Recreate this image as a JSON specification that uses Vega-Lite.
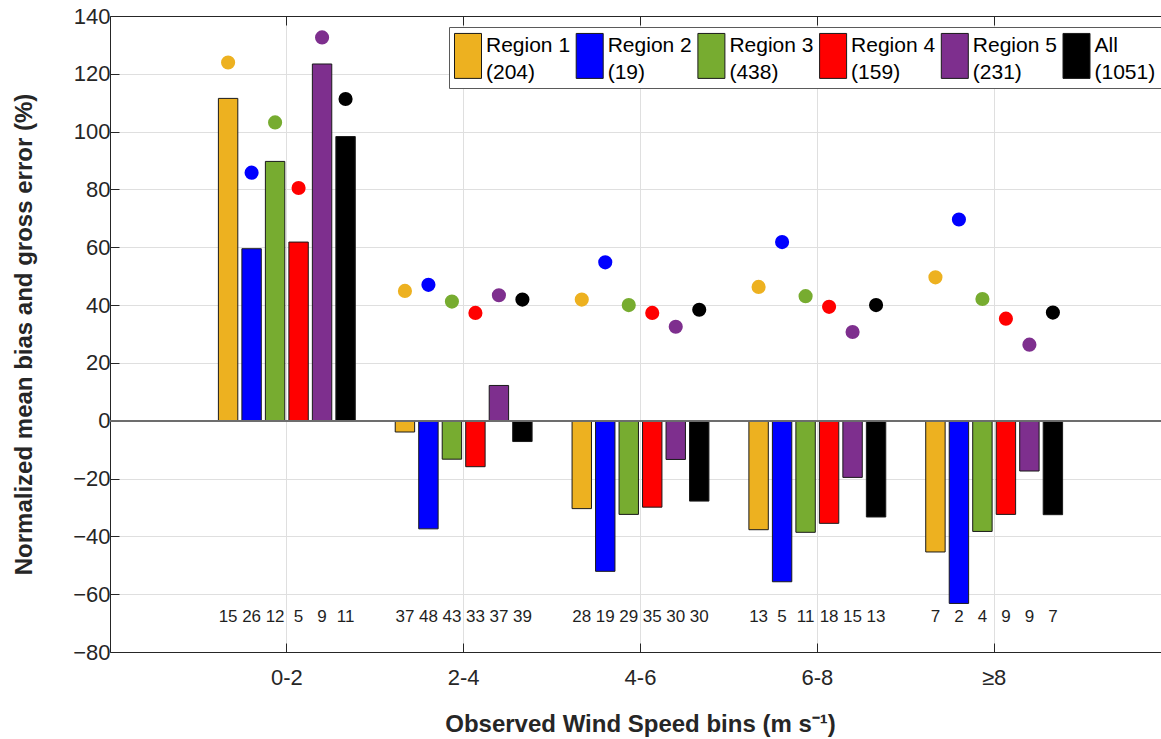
{
  "$schema": "https://vega.github.io/schema/vega-lite/v6.json",
  "width": 1051,
  "height": 636,
  "autosize": {"type": "none"},
  "padding": {"left": 110, "top": 16, "right": 0, "bottom": 87},
  "background": "white",
  "config": {
    "view": {"stroke": null},
    "font": "Liberation Sans",
    "axis": {
      "labelFont": "Liberation Sans",
      "titleFont": "Liberation Sans",
      "labelColor": "#262626",
      "titleColor": "#262626",
      "domainColor": "#262626",
      "tickColor": "#262626",
      "gridColor": "#dfdfdf",
      "gridWidth": 1
    }
  },
  "data": {
    "values": [
      {"bin": "0-2", "region": "Region 1 (204)", "bias": 111.5, "error": 123.9, "n": 15},
      {"bin": "0-2", "region": "Region 2 (19)", "bias": 59.5, "error": 85.8, "n": 26},
      {"bin": "0-2", "region": "Region 3 (438)", "bias": 89.7, "error": 103.2, "n": 12},
      {"bin": "0-2", "region": "Region 4 (159)", "bias": 61.8, "error": 80.5, "n": 5},
      {"bin": "0-2", "region": "Region 5 (231)", "bias": 123.4, "error": 132.6, "n": 9},
      {"bin": "0-2", "region": "All (1051)", "bias": 98.3, "error": 111.3, "n": 11},
      {"bin": "2-4", "region": "Region 1 (204)", "bias": -3.9, "error": 44.9, "n": 37},
      {"bin": "2-4", "region": "Region 2 (19)", "bias": -37.4, "error": 47.0, "n": 48},
      {"bin": "2-4", "region": "Region 3 (438)", "bias": -13.3, "error": 41.2, "n": 43},
      {"bin": "2-4", "region": "Region 4 (159)", "bias": -15.9, "error": 37.3, "n": 33},
      {"bin": "2-4", "region": "Region 5 (231)", "bias": 12.2, "error": 43.4, "n": 37},
      {"bin": "2-4", "region": "All (1051)", "bias": -7.2, "error": 41.9, "n": 39},
      {"bin": "4-6", "region": "Region 1 (204)", "bias": -30.4, "error": 41.9, "n": 28},
      {"bin": "4-6", "region": "Region 2 (19)", "bias": -52.1, "error": 54.8, "n": 19},
      {"bin": "4-6", "region": "Region 3 (438)", "bias": -32.4, "error": 40.0, "n": 29},
      {"bin": "4-6", "region": "Region 4 (159)", "bias": -29.9, "error": 37.3, "n": 35},
      {"bin": "4-6", "region": "Region 5 (231)", "bias": -13.4, "error": 32.5, "n": 30},
      {"bin": "4-6", "region": "All (1051)", "bias": -27.8, "error": 38.4, "n": 30},
      {"bin": "6-8", "region": "Region 1 (204)", "bias": -37.7, "error": 46.3, "n": 13},
      {"bin": "6-8", "region": "Region 2 (19)", "bias": -55.7, "error": 61.8, "n": 5},
      {"bin": "6-8", "region": "Region 3 (438)", "bias": -38.6, "error": 43.1, "n": 11},
      {"bin": "6-8", "region": "Region 4 (159)", "bias": -35.5, "error": 39.4, "n": 18},
      {"bin": "6-8", "region": "Region 5 (231)", "bias": -19.6, "error": 30.7, "n": 15},
      {"bin": "6-8", "region": "All (1051)", "bias": -33.3, "error": 40.0, "n": 13},
      {"bin": "≥8", "region": "Region 1 (204)", "bias": -45.4, "error": 49.6, "n": 7},
      {"bin": "≥8", "region": "Region 2 (19)", "bias": -63.2, "error": 69.6, "n": 2},
      {"bin": "≥8", "region": "Region 3 (438)", "bias": -38.3, "error": 42.1, "n": 4},
      {"bin": "≥8", "region": "Region 4 (159)", "bias": -32.4, "error": 35.3, "n": 9},
      {"bin": "≥8", "region": "Region 5 (231)", "bias": -17.4, "error": 26.3, "n": 9},
      {"bin": "≥8", "region": "All (1051)", "bias": -32.5, "error": 37.4, "n": 7}
    ]
  },
  "encoding": {
    "x": {
      "field": "bin",
      "type": "nominal",
      "sort": ["0-2", "2-4", "4-6", "6-8", "≥8"],
      "scale": {"type": "band", "range": [0, 1061], "paddingInner": 0.226, "paddingOuter": 0.613}
    },
    "xOffset": {
      "field": "region",
      "type": "nominal",
      "sort": ["Region 1 (204)", "Region 2 (19)", "Region 3 (438)", "Region 4 (159)", "Region 5 (231)", "All (1051)"],
      "scale": {"paddingInner": 0.174, "paddingOuter": 0}
    },
    "color": {
      "field": "region",
      "type": "nominal",
      "sort": ["Region 1 (204)", "Region 2 (19)", "Region 3 (438)", "Region 4 (159)", "Region 5 (231)", "All (1051)"],
      "scale": {
        "domain": ["Region 1 (204)", "Region 2 (19)", "Region 3 (438)", "Region 4 (159)", "Region 5 (231)", "All (1051)"],
        "range": ["#EDB120", "#0000FF", "#77AC30", "#FF0000", "#7E2F8E", "#000000"]
      }
    }
  },
  "layer": [
    {
      "mark": {"type": "bar", "stroke": "#1a1a1a", "strokeWidth": 1, "opacity": 1},
      "encoding": {
        "y": {
          "field": "bias",
          "type": "quantitative",
          "scale": {"domain": [-80, 140], "nice": false, "zero": false},
          "axis": {
            "values": [-80, -60, -40, -20, 0, 20, 40, 60, 80, 100, 120, 140],
            "title": "Normalized mean bias and gross error (%)",
            "titleFontSize": 24,
            "titleFontWeight": "bold",
            "titleAngle": -90,
            "titleAlign": "center",
            "titleBaseline": "alphabetic",
            "titleX": -79,
            "titleY": 318,
            "labelFontSize": 22,
            "labelPadding": 9,
            "tickSize": -9,
            "grid": true,
            "domain": true
          }
        },
        "x": {
          "field": "bin",
          "type": "nominal",
          "sort": ["0-2", "2-4", "4-6", "6-8", "≥8"],
          "axis": {
            "orient": "bottom",
            "labelAngle": 0,
            "labelFontSize": 22,
            "labelPadding": 24,
            "tickSize": -9,
            "grid": true,
            "title": "Observed Wind Speed bins (m s⁻¹)",
            "titleFontSize": 24,
            "titleFontWeight": "bold",
            "titleX": 530,
            "titleY": 79,
            "titleBaseline": "alphabetic"
          }
        },
        "color": {
          "field": "region",
          "type": "nominal",
          "legend": {
            "orient": "none",
            "legendX": 339,
            "legendY": 11,
            "direction": "horizontal",
            "columns": 6,
            "gridAlign": "all",
            "title": null,
            "padding": 5,
            "fillColor": "white",
            "strokeColor": "#5a5a5a",
            "symbolType": "M-1,-0.93V2.4H1V-0.93Z",
            "symbolSize": 729,
            "symbolStrokeColor": "#1a1a1a",
            "symbolStrokeWidth": 1,
            "symbolOpacity": 1,
            "labelFont": "Liberation Sans",
            "labelFontSize": 21,
            "labelColor": "#000000",
            "labelOffset": 4,
            "labelLimit": 200,
            "columnPadding": 2.7,
            "labelExpr": "[slice(datum.label, 0, indexof(datum.label, ' (')), slice(datum.label, indexof(datum.label, ' (') + 1)]",
            "encode": {"labels": {"update": {"lineHeight": {"value": 27}}}}
          }
        }
      }
    },
    {
      "mark": {"type": "point", "filled": true, "size": 200, "opacity": 1, "shape": "circle"},
      "encoding": {
        "y": {"field": "error", "type": "quantitative"},
        "x": {
          "field": "bin",
          "type": "nominal",
          "sort": ["0-2", "2-4", "4-6", "6-8", "≥8"],
          "axis": {"orient": "top", "labels": false, "title": null, "tickSize": -9, "grid": false, "domain": true}
        },
        "color": {"field": "region", "type": "nominal", "legend": null}
      }
    },
    {
      "mark": {"type": "text", "fontSize": 17, "color": "#1f1f1f", "baseline": "middle", "align": "center"},
      "encoding": {
        "y": {"datum": -68, "type": "quantitative"},
        "x": {
          "field": "bin",
          "type": "nominal",
          "sort": ["0-2", "2-4", "4-6", "6-8", "≥8"],
          "axis": null
        },
        "text": {"field": "n", "type": "quantitative"},
        "color": {"value": "#1f1f1f"}
      }
    },
    {
      "mark": {"type": "rule", "color": "#6e6e6e", "strokeWidth": 1},
      "encoding": {"y": {"datum": 0, "type": "quantitative"}, "xOffset": null, "x": null, "color": {"value": "#6e6e6e"}}
    }
  ],
  "resolve": {"axis": {"x": "independent"}}
}
